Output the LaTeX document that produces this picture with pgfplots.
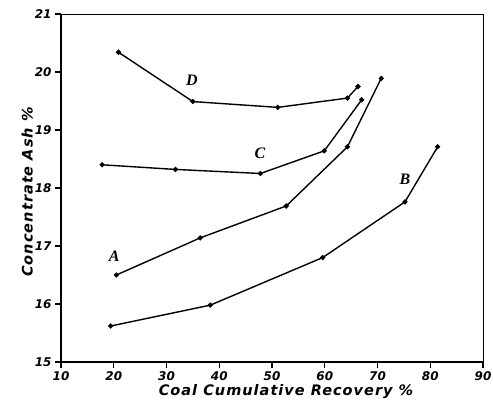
\documentclass[border=0pt]{standalone}
\usepackage{pgfplots}
\pgfplotsset{compat=1.18}
\usepackage{fontspec}
\setmainfont{DejaVu Sans}
\newfontfamily\curvefont{Liberation Serif}
\begin{document}
\begin{tikzpicture}
\begin{axis}[
  name=ax,
  scale only axis,
  width=422pt, height=348pt,
  xmin=10, xmax=90, ymin=15, ymax=21,
  xtick={10,20,...,90}, ytick={15,16,...,21},
  axis x line*=bottom, axis y line*=left,
  tick align=outside, major tick length=6pt,
  tick style={line width=1.2pt, black},
  axis line style={line width=1.6pt},
  /pgf/number format/assume math mode=true,
  tick label style={font=\fontsize{12}{14}\selectfont\bfseries\itshape},
  xlabel={Coal Cumulative Recovery \%},
  ylabel={Concentrate Ash \%},
  label style={font=\fontsize{14.5}{16}\selectfont\bfseries\itshape\addfontfeature{LetterSpace=7}},
  xlabel style={yshift=3pt, xshift=14pt},
  ylabel style={yshift=-5pt, xshift=-4pt},
  every axis plot post/.append style={black, line width=1.4pt, mark=*, mark size=1.8pt, mark options={solid, fill=black}},
  clip=false,
]
% frame on the top and right
\draw[line width=0.9pt] (axis cs:10,21) -- (axis cs:90,21) -- (axis cs:90,15);
% curve D
\addplot coordinates {(20.9,20.34) (35.0,19.49) (51.1,19.39) (64.3,19.55) (66.3,19.75)};
% curve C
\addplot coordinates {(17.8,18.40) (31.7,18.32) (47.8,18.25) (59.9,18.64) (67.0,19.52)};
% curve A
\addplot coordinates {(20.5,16.50) (36.4,17.14) (52.7,17.69) (64.3,18.71) (70.7,19.89)};
% curve B
\addplot coordinates {(19.4,15.62) (38.3,15.98) (59.6,16.80) (75.2,17.76) (81.4,18.71)};
\node[font=\fontsize{16}{18}\selectfont\curvefont\itshape\bfseries] at (axis cs:34.8,19.85) {D};
\node[font=\fontsize{16}{18}\selectfont\curvefont\itshape\bfseries] at (axis cs:47.7,18.60) {C};
\node[font=\fontsize{16}{18}\selectfont\curvefont\itshape\bfseries] at (axis cs:20.1,16.83) {A};
\node[font=\fontsize{16}{18}\selectfont\curvefont\itshape\bfseries] at (axis cs:75.2,18.15) {B};
\end{axis}
\pgfresetboundingbox
\path[use as bounding box] ([xshift=-61pt,yshift=-48pt]ax.south west) rectangle ([xshift=10pt,yshift=14pt]ax.north east);
\end{tikzpicture}
\end{document}
